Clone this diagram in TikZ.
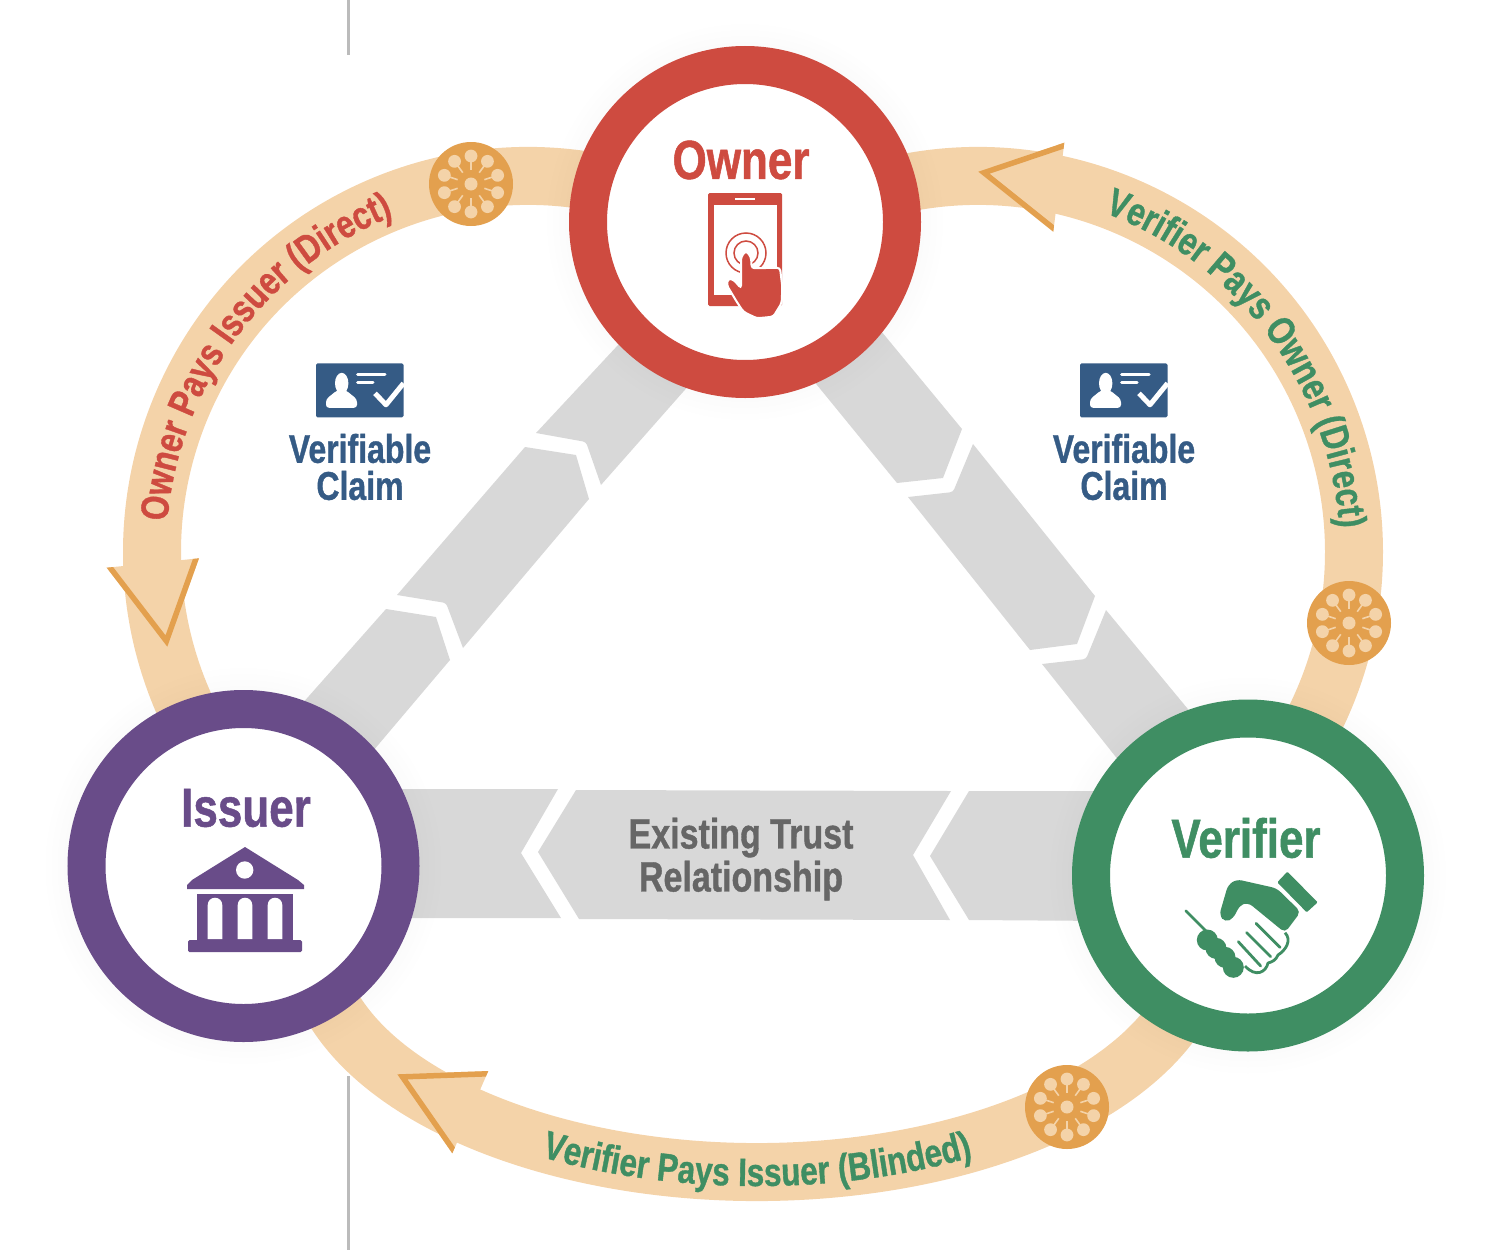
\documentclass[tikz,border=0pt]{standalone}
\usepackage{fontspec}
\usepackage{tikz}
\usetikzlibrary{decorations.text}
\newfontfamily\lblfont[FakeStretch=0.8,FakeBold=0.9]{Liberation Sans}
\definecolor{ownerc}{HTML}{CE4B40}
\definecolor{issuerc}{HTML}{694C89}
\definecolor{verifierc}{HTML}{3F8E63}
\definecolor{claimc}{HTML}{355B85}
\definecolor{bandc}{HTML}{F4D3A9}
\definecolor{coinc}{HTML}{E3A04E}
\definecolor{barc}{HTML}{D8D8D8}
\definecolor{trustc}{HTML}{666666}
\definecolor{rulec}{HTML}{BBBBBB}
\tikzset{
  payband/.style={draw=bandc,line width=58pt},
  barpart/.style={fill=barc},
  role/.style={circle,draw=#1,fill=white,line width=38pt,minimum size=314pt,inner sep=0pt},
  rolelbl/.style={font=\lblfont\bfseries\fontsize{55}{55}\selectfont,text=#1,inner sep=0pt},
  claimlbl/.style={font=\lblfont\bfseries\fontsize{40}{37}\selectfont,text=claimc,align=center,inner sep=0pt},
  halo/.style={fill=black,opacity=0.004},
}
\newcommand{\arclbl}[1]{\lblfont\bfseries\fontsize{39.3}{39.3}\selectfont\color{#1}}
% coin with ten spokes
\newcommand{\paycoin}[1]{
  \begin{scope}[shift={#1}]
    \fill[coinc] (0,0) circle (42pt);
    \fill[bandc] (0,0) circle (6.5pt);
    \foreach \a in {18,54,...,342} {
      \draw[bandc,line width=1.6pt] (\a:14pt) -- (\a:22pt);
      \fill[bandc] (\a:28pt) circle (6.4pt);
    }
  \end{scope}
}
% triangle head, only two sides stroked
\newcommand{\payhead}[3]{
  \fill[bandc] #1 -- #2 -- #3 -- cycle;
  \begin{scope}
    \clip #1 -- #2 -- #3 -- cycle;
    \draw[coinc,line width=11pt,line cap=rect,line join=miter] #1 -- #2 -- #3;
  \end{scope}
}
% card icon, origin at the top left corner of the card
\newcommand{\claimcard}[1]{
  \begin{scope}[shift={#1}]
    \fill[claimc,rounded corners=1.5pt] (0,0) rectangle (87.5,-54);
    \fill[white] (25.7,-20) ellipse (6.7pt and 10.5pt);
    \fill[white,rounded corners=3pt] (21,-27) -- (10,-36) -- (10,-44.5) -- (41,-44.5) -- (41,-36) -- (30,-27) -- cycle;
    \draw[white,line width=3pt,line cap=round] (41.5,-11) -- (69,-11);
    \draw[white,line width=3pt,line cap=round] (41.5,-19.5) -- (57,-19.5);
    \draw[white,line width=5pt,line join=round] (59,-30) -- (70,-41.5) -- (87.5,-20);
  \end{scope}
}
\begin{document}
\begin{tikzpicture}[x=1pt,y=1pt]
  \useasboundingbox (0,0) rectangle (1510,-1250);
  \coordinate (leftc) at (528,-552);
  \coordinate (rightc) at (978,-552);
  \coordinate (lowc) at (757,-937);

  \draw[rulec,line width=3pt] (348,0) -- (348,-55);
  \draw[rulec,line width=3pt] (348,-1076) -- (348,-1250);

  % outer ring
  \draw[payband] (leftc) ++(70:376pt) arc[start angle=70,end angle=210,radius=376pt];
  \draw[payband] (rightc) ++(110:376pt) arc[start angle=110,end angle=-35,radius=376pt];
  \draw[payband] (lowc) ++(-165:445pt and 235pt) arc[start angle=-165,end angle=-15,x radius=445pt,y radius=235pt];

  \payhead{(1064.3,-142.7)}{(978.3,-171.7)}{(1053.3,-231.7)}
  \payhead{(106.7,-567.7)}{(167.3,-646.7)}{(199,-558.3)}
  \payhead{(488.3,-1071)}{(397.3,-1074.3)}{(452.3,-1153.3)}

  \paycoin{(471,-184)}
  \paycoin{(1349,-623)}
  \paycoin{(1067,-1107)}

  \path[decorate,decoration={text along path,text align=center,
      text={|\arclbl{ownerc}|Owner Pays Issuer (Direct)}}]
    (leftc) ++(183.5:362pt) arc[start angle=183.5,end angle=103.5,radius=362pt];
  \path[decorate,decoration={text along path,text align=center,
      text={|\arclbl{verifierc}|Verifier Pays Owner (Direct)}}]
    (rightc) ++(76.7:362pt) arc[start angle=76.7,end angle=-3.3,radius=362pt];
  \path[decorate,decoration={text along path,text align=center,
      text={|\arclbl{verifierc}|Verifier Pays Issuer (Blinded)}}]
    (lowc) ++(-130:459pt and 249pt) arc[start angle=-130,end angle=-50,x radius=459pt,y radius=249pt];

  % grey bars of the triangle
  \fill[barpart] (660,-300) -- (536,-433) [rounded corners=3pt] -- (586,-442) [sharp corners] -- (601,-485) -- (720,-350) -- cycle;
  \fill[barpart] (525,-447) -- (576,-455) -- (589,-499) -- (463,-648) [rounded corners=3pt] -- (446,-603) [sharp corners] -- (397,-595) -- cycle;
  \fill[barpart] (386,-609) -- (436,-617) -- (450,-660) -- (340,-790) -- (270,-740) -- cycle;

  \fill[barpart] (843,-285) -- (962,-429) -- (943,-478) -- (897,-483) -- (777,-336) -- cycle;
  \fill[barpart] (973,-444) -- (1095,-596) -- (1077,-644) -- (1030,-650) -- (908,-497) [rounded corners=3pt] -- (953,-492) [sharp corners] -- cycle;
  \fill[barpart] (1106,-610) -- (1230,-760) -- (1150,-800) -- (1042,-664) [rounded corners=3pt] -- (1086,-659) [sharp corners] -- cycle;

  \fill[barpart] (380,-789) -- (558,-789) -- (521,-853) -- (561,-918) -- (380,-918) -- cycle;
  \fill[barpart] (576,-790) -- (951,-791) -- (913,-855) -- (950,-920) -- (579,-919) -- (538,-852) -- cycle;
  \fill[barpart] (969,-791) -- (1110,-791) -- (1110,-921) -- (969,-920) -- (930,-856) -- cycle;

  \foreach \r in {180,186,192,198} {
    \fill[halo] (745,-222) circle (\r pt);
    \fill[halo] (243.5,-866) circle (\r pt);
    \fill[halo] (1248,-875.5) circle (\r pt);
  }

  \node[role=ownerc] (owner) at (745,-222) {};
  \node[role=issuerc] (issuer) at (243.5,-866) {};
  \node[role=verifierc] (verifier) at (1248,-875.5) {};

  \node[rolelbl=ownerc] (ownerlbl) at (741,-160) {Owner};
  \node[rolelbl=issuerc] (issuerlbl) at (246,-808) {Issuer};
  \node[rolelbl=verifierc] (verifierlbl) at (1246,-838) {Verifier};

  % phone and hand
  \fill[ownerc,rounded corners=1.5pt] (708,-193) rectangle (782,-306);
  \fill[white] (713.5,-205) rectangle (777,-295);
  \draw[white,line width=1.5pt] (735,-199) -- (755,-199);
  \draw[ownerc,line width=1.5pt] (746,-253) circle (20pt);
  \draw[ownerc,line width=1.5pt] (746,-253) circle (12pt);
  \fill[ownerc,draw=white,line width=2pt,rounded corners=3pt] (741,-257) -- (746,-250.7) -- (751,-257)
    -- (751.7,-268.3) -- (780,-267.7) -- (782.3,-286.7) -- (781.7,-303) -- (773.3,-316.7)
    -- (756.7,-318.3) -- (743.3,-311.7) -- (736.7,-301.7) -- (726.7,-285) -- (728.3,-278.3)
    -- (734,-280) -- (741,-288.3) -- cycle;

  % bank
  \fill[issuerc] (245,-847) -- (298,-880) -- (304,-885) -- (304,-889) -- (187,-889) -- (187,-885) -- (192,-880) -- cycle;
  \fill[white] (244.7,-870) circle (8.7pt);
  \fill[issuerc] (197,-894) rectangle (293,-942);
  \fill[issuerc,rounded corners=1.5pt] (188,-940) rectangle (302,-952);
  \foreach \c in {215,245,275} {
    \fill[white] (\c-7.3,-939) -- (\c-7.3,-905) arc[start angle=180,end angle=0,radius=7.3pt] -- (\c+7.3,-939) -- cycle;
  }

  % handshake
  \fill[verifierc,rounded corners=1pt] (1287.3,-871.7) -- (1317.7,-902.3) -- (1306.7,-912.3) -- (1277.3,-882.3) -- cycle;
  \fill[verifierc,rounded corners=5pt] (1236.7,-879.3) -- (1276.7,-888.3) -- (1300.7,-911.7) -- (1285,-932.7)
    -- (1248.3,-902.7) -- (1240,-905) -- (1233.3,-918.3) -- (1225,-922.3) -- (1219.3,-915) -- (1228,-885) -- cycle;
  \draw[verifierc,line width=2.8pt,line join=round] (1285,-932.7) .. controls (1292,-940) and (1286,-950) .. (1278,-955)
    .. controls (1276,-960) and (1272,-962) .. (1268,-963) .. controls (1266,-972) and (1256,-978) .. (1245,-966);
  \draw[verifierc,line width=2.8pt,line cap=round] (1256,-923.3) -- (1280,-947.3);
  \draw[verifierc,line width=2.8pt,line cap=round] (1246.7,-932.7) -- (1270.7,-956.7);
  \draw[verifierc,line width=2.8pt,line cap=round] (1238.3,-941.7) -- (1260.7,-966);
  \draw[verifierc,line width=15pt] (1207.3,-940) -- (1233.3,-967.3);
  \foreach \x/\y in {1207.3/940,1216/948.3,1225/957.3,1233.3/967.3} {
    \fill[verifierc] (\x,-\y) circle (10.5pt);
  }
  \draw[verifierc,line width=2.5pt,line cap=round] (1185.7,-910.7) -- (1206.7,-931.7);

  \claimcard{(316,-363.3)}
  \claimcard{(1080,-363.3)}
  \node[claimlbl] (claimleft) at (360,-467) {Verifiable\\Claim};
  \node[claimlbl] (claimright) at (1124,-467) {Verifiable\\Claim};

  \node[font=\lblfont\bfseries\fontsize{42.5}{43}\selectfont,text=trustc,align=center,inner sep=0pt] (trust) at (741,-859) {Existing Trust\\Relationship};
\end{tikzpicture}
\end{document}
